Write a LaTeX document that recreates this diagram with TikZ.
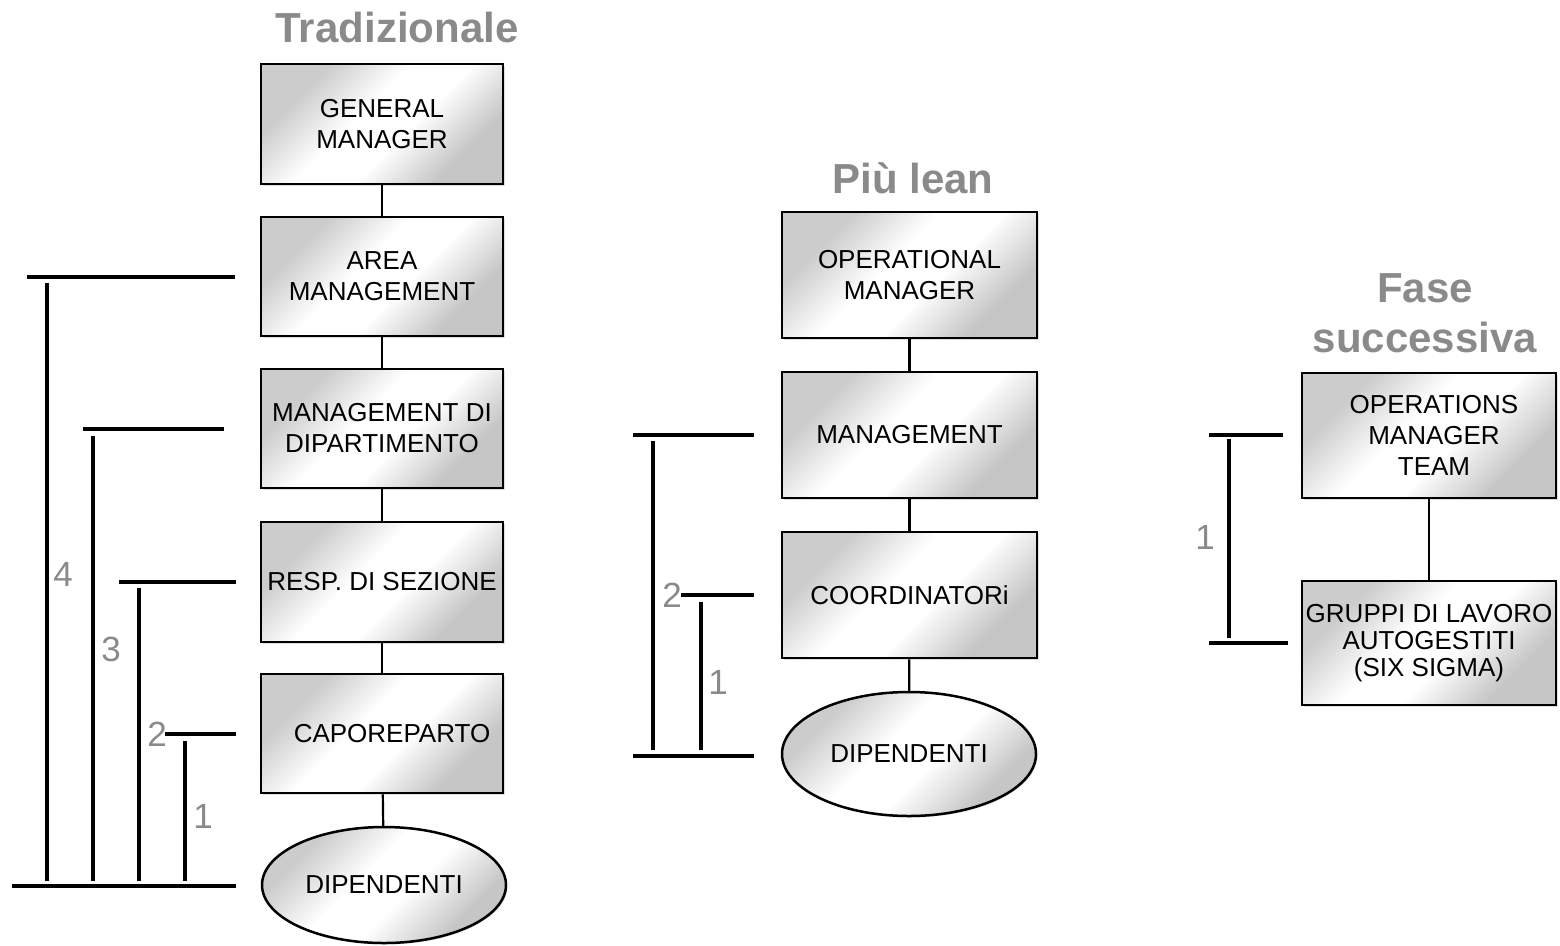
\documentclass[tikz,border=0pt]{standalone}
\usepackage{fontspec}
\setmainfont{Liberation Sans}
\usetikzlibrary{shapes.geometric,shadows}

\definecolor{labelgray}{RGB}{138,138,138}
\pgfdeclareverticalshading{sheen}{100bp}{color(0bp)=(gray!45); color(28bp)=(gray!45);
  color(44bp)=(white); color(56bp)=(white); color(72bp)=(gray!40); color(100bp)=(gray!40)}

\tikzset{
  unit/.style={draw, line width=2.5pt, shading=sheen, shading angle=45,
    align=center, inner sep=0pt, font=\fontsize{26}{31}\selectfont,
    drop shadow={shadow xshift=1.5pt, shadow yshift=-1.5pt, fill=gray!50}},
  box/.style={unit, rectangle, minimum width=#1, minimum height=120pt},
  box/.default=242pt,
  staff/.style={unit, ellipse, minimum width=#1, minimum height=118pt},
  link/.style={line width=2.2pt},
  bar/.style={line width=3.5pt},
  level/.style={text=labelgray, inner sep=0pt, font=\fontsize{35}{42}\selectfont},
  heading/.style={text=labelgray, align=center, inner sep=0pt,
    font=\fontsize{42}{50}\selectfont\bfseries}
}

\begin{document}
\begin{tikzpicture}[x=1pt,y=-1pt]
        \useasboundingbox (0,0) rectangle (1560,945);

        % Tradizionale
        \node[heading] (t1) at (397,27) {Tradizionale};
        \node[box] (gm) at (382,124) {GENERAL\\MANAGER};
        \node[box, minimum height=119pt] (am) at (382,276.5) {AREA\\MANAGEMENT};
        \node[box, minimum height=119pt] (md) at (382,428.5) {MANAGEMENT DI\\DIPARTIMENTO};
        \node[box] (rs) at (382,582) {RESP. DI SEZIONE};
        \node[box, minimum height=119pt] (cr) at (382,733.5) {\hspace*{20pt}CAPOREPARTO};
        \node[staff=244pt, minimum height=116pt] (d1) at (384,885) {DIPENDENTI};

        % Più lean
        \node[heading] (t2) at (913,178) {Più lean};
        \node[box=255pt, minimum height=126pt] (om) at (909.5,275) {OPERATIONAL\\MANAGER};
        \node[box=255pt, minimum height=126pt] (mg) at (909.5,435) {MANAGEMENT};
        \node[box=255pt, minimum height=126pt] (co) at (909.5,595) {COORDINATORi};
        \node[staff=254pt, minimum height=124pt] (d2) at (909,754) {DIPENDENTI};

        % Fase successiva
        \node[heading] (t3) at (1425,313) {Fase\\successiva};
        \node[box=254pt, minimum height=125pt] (ot) at (1429,435.5) {\hspace*{10pt}OPERATIONS\\\hspace*{10pt}MANAGER\\\hspace*{10pt}TEAM};
        \node[box=254pt, minimum height=124pt, font=\fontsize{26}{27}\selectfont] (gl) at (1429,643) {GRUPPI DI LAVORO\\AUTOGESTITI\\(SIX SIGMA)};

        % Links
        \draw[link] (gm) -- (am);
        \draw[link] (am) -- (md);
        \draw[link] (md) -- (rs);
        \draw[link] (rs) -- (cr);
        \draw[link] (cr) -- (d1);
        \draw[link] (om) -- (mg);
        \draw[link] (mg) -- (co);
        \draw[link] (co) -- (d2);
        \draw[link] (ot) -- (gl);

        % Coordinates
        \coordinate (A) at (27,277);
        \coordinate (B) at (235,277);
        \coordinate (C) at (47,283);
        \coordinate (D) at (47,881);
        \coordinate (E) at (83,429);
        \coordinate (F) at (224,429);
        \coordinate (G) at (93,436);
        \coordinate (H) at (93,881);
        \coordinate (I) at (119,582);
        \coordinate (J) at (236,582);
        \coordinate (K) at (139,588);
        \coordinate (L) at (139,881);
        \coordinate (M) at (165,734);
        \coordinate (N) at (236,734);
        \coordinate (O) at (185,741);
        \coordinate (P) at (185,881);
        \coordinate (Q) at (12,886);
        \coordinate (R) at (236,886);
        \coordinate (S) at (633,435);
        \coordinate (T) at (754,435);
        \coordinate (U) at (653,441);
        \coordinate (V) at (653,750);
        \coordinate (W) at (681,595);
        \coordinate (X) at (754,595);
        \coordinate (Y) at (701,602);
        \coordinate (Z) at (701,750);
        \coordinate (AA) at (633,756);
        \coordinate (AB) at (754,756);
        \coordinate (AC) at (1209,435);
        \coordinate (AD) at (1283,435);
        \coordinate (AE) at (1229,439);
        \coordinate (AF) at (1229,638);
        \coordinate (AG) at (1209,643);
        \coordinate (AH) at (1288,643);

        % Drawing
        \draw[bar] (A) -- (B);
        \draw[bar] (C) -- (D);
        \draw[bar] (E) -- (F);
        \draw[bar] (G) -- (H);
        \draw[bar] (I) -- (J);
        \draw[bar] (K) -- (L);
        \draw[bar] (M) -- (N);
        \draw[bar] (O) -- (P);
        \draw[bar] (Q) -- (R);
        \draw[bar] (S) -- (T);
        \draw[bar] (U) -- (V);
        \draw[bar] (W) -- (X);
        \draw[bar] (Y) -- (Z);
        \draw[bar] (AA) -- (AB);
        \draw[bar] (AC) -- (AD);
        \draw[bar] (AE) -- (AF);
        \draw[bar] (AG) -- (AH);

        % Levels
        \node[level] (n4) at (63,574) {4};
        \node[level] (n3) at (111,649) {3};
        \node[level] (n2) at (157,734) {2};
        \node[level] (n1) at (203,816) {1};
        \node[level] (m2) at (672,595) {2};
        \node[level] (m1) at (718,682) {1};
        \node[level] (f1) at (1205,537) {1};
\end{tikzpicture}
\end{document}
